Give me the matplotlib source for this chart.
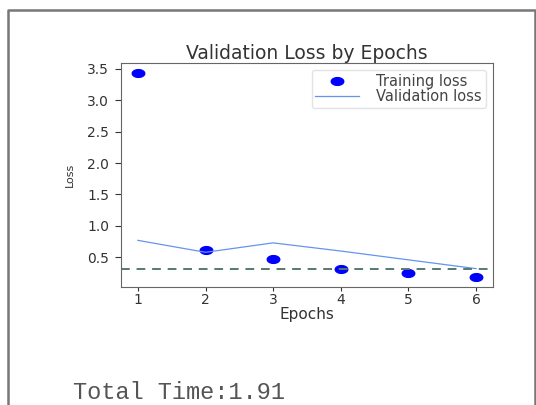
import numpy as np
import matplotlib
matplotlib.use("Agg")
import matplotlib.pyplot as plt
from matplotlib.path import Path
from matplotlib.lines import Line2D

# Loss history per epoch
epochs = [1, 2, 3, 4, 5, 6]
train_loss = [3.43, 0.62, 0.47, 0.32, 0.25, 0.19]
val_loss = [0.77, 0.58, 0.73, 0.60, 0.46, 0.32]
threshold = 0.31
total_time = "1.91"

# slightly wide dot marker
t = np.linspace(0, 2 * np.pi, 40)
dot = Path(np.column_stack([np.cos(t), 0.62 * np.sin(t)]), closed=True)

fig = plt.figure(figsize=(5.36, 4.05), dpi=100)
ax = fig.add_axes([0.2257, 0.2914, 0.694, 0.553])

ax.plot(epochs, train_loss, linestyle="none", marker=dot, markersize=9,
        color="blue", label="Training loss")
ax.plot(epochs, val_loss, color="cornflowerblue", linewidth=0.9,
        label="Validation loss")
ax.axhline(threshold, color="#557a6c", linestyle="--", linewidth=1.4,
           dashes=(4.5, 3.5))

ax.set_title("Validation Loss by Epochs", fontsize=13.5, color="#333333", pad=3)
ax.set_xlabel("Epochs", fontsize=11, color="#333333", labelpad=0)
ax.set_ylabel("Loss", fontsize=8, color="#333333", labelpad=9)
ax.set_xticks(epochs)
ax.set_yticks([0.5, 1.0, 1.5, 2.0, 2.5, 3.0, 3.5])
ax.tick_params(labelsize=10, colors="#333333")
ax.tick_params(axis="x", length=3, pad=1.5)
ax.tick_params(axis="y", length=4.5, pad=4)
for s in ax.spines.values():
    s.set_color("#666666")

leg = ax.legend(loc="upper right", fontsize=10.5, frameon=True,
                labelspacing=0.0, borderpad=0.25, handlelength=3.0,
                handletextpad=1.2, edgecolor="#dddddd")
for txt in leg.get_texts():
    txt.set_color("#444444")

# window frame around the figure
fig.add_artist(Line2D([0.0149, 0.0149, 0.998, 0.998], [0.0, 0.975, 0.975, 0.0],
                      color="#777777", linewidth=1.8))

fig.text(0.136, 0.03, "Total Time:" + total_time, family="Liberation Mono",
         fontsize=17, color="#555555", va="center")

fig.savefig("out.png", dpi=100)
